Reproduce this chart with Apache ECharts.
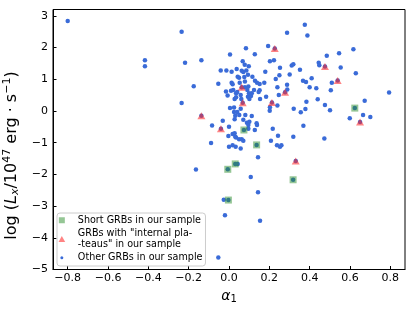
<!DOCTYPE html>
<html><head><meta charset="utf-8">
<script src="https://cdn.jsdelivr.net/npm/echarts@6/dist/echarts.min.js"></script>
<style>html,body{margin:0;padding:0;background:#fff}#c{width:415px;height:311px}</style>
</head><body><div id="c"></div>
<script>
// Other GRBs (blue dots)
const otherX = [-0.80,-0.235,-0.417,-0.417,-0.218,-0.137,-0.041,-0.013,0.005,-0.175,-0.053,-0.015,0.010,0.021,-0.007,-0.235,0.005,-0.031,-0.084,0.0,-0.003,-0.089,0.0,-0.164,-0.026,-0.02,-0.053,
0.018,0.028,0.031,0.035,0.050,0.063,0.071,0.128,0.018,0.033,0.058,0.144,0.043,0.108,0.144,0.154,0.208,0.243,0.238,0.253,0.260,0.319,0.473,
0.376,0.288,0.389,0.194,0.084,0.128,0.068,0.078,0.098,0.203,0.223,0.253,0.311,0.319,0.352,0.445,0.448,0.485,0.546,0.617,0.554,0.629,0.510,0.505,0.794,0.673,0.599,0.665,0.701,
0.440,0.476,0.501,0.384,0.379,0.356,0.321,0.369,0.367,0.382,0.410,0.400,0.433,0.301,0.250,0.232,0.180,0.288,0.289,0.247,0.240,0.184,0.154,0.175,0.152,0.203,0.202,0.240,
0.013,0.038,0.063,0.071,0.086,0.043,0.050,0.076,0.013,0.018,0.053,0.116,0.129,0.139,0.094,0.079,
0.035,0.041,0.079,0.091,0.096,0.028,0.035,0.061,0.094,0.101,0.025,0.058,0.025,0.041,0.031,0.051,0.028,0.081,0.071,0.089,0.096,0.101,0.096,
0.113,0.124,0.109,0.099,0.152,0.147,0.113,0.137,0.139,0.217,0.058];
const otherY = [2.84,2.50,1.60,1.41,1.52,1.60,1.28,1.28,1.78,0.78,0.86,0.61,0.64,0.66,0.49,0.25,0.09,-0.31,-0.46,-0.50,-0.79,-1.01,-1.13,-1.85,-2.80,-3.29,-4.62,
-0.73,-0.70,-0.81,-0.84,-0.89,-0.89,-0.94,-0.60,-1.08,-1.13,-1.18,-1.46,-1.67,-2.08,-2.56,-3.46,-0.94,-0.78,-1.08,-1.13,-1.08,-0.81,-0.87,
2.72,2.47,2.38,2.05,1.98,1.79,1.57,1.46,1.41,1.57,1.60,1.36,1.43,1.47,1.30,1.52,1.44,1.74,1.82,1.95,1.37,1.19,0.89,0.65,0.58,0.32,-0.23,-0.13,-0.19,
0.37,0.19,0.02,0.29,0.06,-0.04,0.07,-0.47,0.95,0.91,1.03,0.75,0.72,1.15,1.13,1.01,1.24,0.83,0.68,0.50,0.75,0.45,0.38,0.89,0.85,0.12,0.01,0.17,
1.24,1.32,1.27,1.23,1.28,1.08,1.05,1.07,0.89,0.84,0.89,1.08,0.95,0.89,1.14,0.93,
0.56,0.60,0.75,0.66,0.77,0.38,0.43,0.38,0.45,0.38,0.11,0.07,-0.03,-0.03,-0.15,-0.13,-0.26,-0.13,-0.28,-0.37,-0.44,-0.34,-0.56,
0.56,0.66,0.47,0.56,0.65,0.60,-0.16,-0.39,-0.44,-0.56,0.50];
// GRBs with internal plateaus (red triangles)
const plateauX = [-0.137,-0.040,0.063,0.068,0.213,0.227,0.278,0.331,0.476,0.539,0.650];
const plateauY = [-0.15,-0.56,0.75,0.26,0.27,1.97,0.59,-1.58,1.40,0.96,-0.35];
// Short GRBs (green squares)
const shortX = [-0.006,-0.003,0.031,0.074,0.137,0.318,0.624];
const shortY = [-1.84,-2.81,-1.67,-0.60,-1.07,-2.17,0.09];
// Tick labels
const xTicks = [-0.8,-0.6,-0.4,-0.2,0.0,0.2,0.4,0.6,0.8];
const yTicks = [-5,-4,-3,-2,-1,0,1,2,3];
const seriesNames = ['Short GRBs in our sample','GRBs with "internal pla-\n-teaus" in our sample','Other GRBs in our sample'];

const zip = (xs, ys) => xs.map((x, i) => [x, ys[i]]);
const allDots = zip(otherX, otherY).concat(zip(plateauX, plateauY), zip(shortX, shortY));
const F = 'DejaVu Sans';
const minus = s => String(s).replace('-', '\u2212');

const chart = echarts.init(document.getElementById('c'), null, {renderer: 'canvas'});
chart.setOption({
  animation: false,
  backgroundColor: '#fff',
  grid: {left: 53, right: 10, top: 9.5, bottom: 41.5, show: true, borderColor: '#000', borderWidth: 1, outerBoundsMode: 'none', containLabel: false},
  xAxis: {
    type: 'value', min: -0.873, max: 0.873,
    axisLine: {show: true, onZero: false, lineStyle: {color: '#000', width: 1}},
    axisTick: {show: true, inside: true, length: 3.5, lineStyle: {color: '#000'}, customValues: xTicks},
    axisLabel: {customValues: xTicks, formatter: v => minus(v.toFixed(1)), fontFamily: F, fontSize: 11, color: '#000', margin: 3},
    splitLine: {show: false},
    name: '{i|\u03b1}{s|1}', nameLocation: 'middle', nameGap: 7,
    nameTextStyle: {fontFamily: F, fontSize: 14, color: '#000', rich: {
      i: {fontFamily: F, fontStyle: 'italic', fontSize: 14, color: '#000', verticalAlign: 'middle', lineHeight: 19},
      s: {fontFamily: F, fontSize: 10, color: '#000', verticalAlign: 'middle', lineHeight: 19, padding: [6, 0, 0, 0]}
    }}
  },
  yAxis: {
    type: 'value', min: -5, max: 3.2,
    axisLine: {show: true, onZero: false, lineStyle: {color: '#000', width: 1}},
    axisTick: {show: true, inside: true, length: 3.5, lineStyle: {color: '#000'}, customValues: yTicks},
    axisLabel: {customValues: yTicks, formatter: v => minus(v), fontFamily: F, fontSize: 11, color: '#000', margin: 5},
    splitLine: {show: false},
    name: '{n|log (}{i|L}{s|x}{n|/10}{p|47}{n| erg \u00b7 s}{p|\u22121}{n|)}',
    nameLocation: 'middle', nameGap: 17,
    nameTextStyle: {fontFamily: F, fontSize: 16, color: '#000', padding: [0, 32, 0, 0], rich: {
      n: {fontFamily: F, fontSize: 16, color: '#000', lineHeight: 22, verticalAlign: 'middle'},
      i: {fontFamily: F, fontStyle: 'italic', fontSize: 16, color: '#000', lineHeight: 22, verticalAlign: 'middle'},
      s: {fontFamily: F, fontStyle: 'italic', fontSize: 11, color: '#000', lineHeight: 22, verticalAlign: 'middle', padding: [7, 0, 0, 0]},
      p: {fontFamily: F, fontSize: 11, color: '#000', lineHeight: 22, verticalAlign: 'middle', padding: [0, 0, 8, 0]}
    }}
  },
  legend: {
    left: 57, top: 213, orient: 'vertical', selectedMode: false,
    padding: [2, 3, 3, 1.5], itemGap: 3, itemWidth: 22, itemHeight: 6,
    backgroundColor: 'rgba(255,255,255,0.8)', borderColor: '#cccccc', borderWidth: 1, borderRadius: 3,
    textStyle: {fontFamily: F, fontSize: 9.6, color: '#000', lineHeight: 10.5},
    data: [
      {name: seriesNames[0], icon: 'path://M0,0L10,0L10,10L0,10Z'},
      {name: seriesNames[1], icon: 'path://M5,0L10,9L0,9Z'},
      {name: seriesNames[2], icon: 'path://M0,0M10,10M2.5,5A2.5,2.5,0,1,0,7.5,5A2.5,2.5,0,1,0,2.5,5Z'}
    ]
  },
  series: [
    {name: seriesNames[2], type: 'scatter', data: allDots, symbol: 'circle', symbolSize: 4.5,
     itemStyle: {color: '#3a6bd8', opacity: 1}, z: 2},
    {name: seriesNames[1], type: 'scatter', data: zip(plateauX, plateauY), symbol: 'triangle', symbolSize: [8, 7],
     itemStyle: {color: 'rgba(255,40,40,0.72)'}, z: 3},
    {name: seriesNames[0], type: 'scatter', data: zip(shortX, shortY), symbol: 'rect', symbolSize: 7,
     itemStyle: {color: 'rgba(40,140,40,0.62)'}, z: 4}
  ]
});
</script></body></html>
